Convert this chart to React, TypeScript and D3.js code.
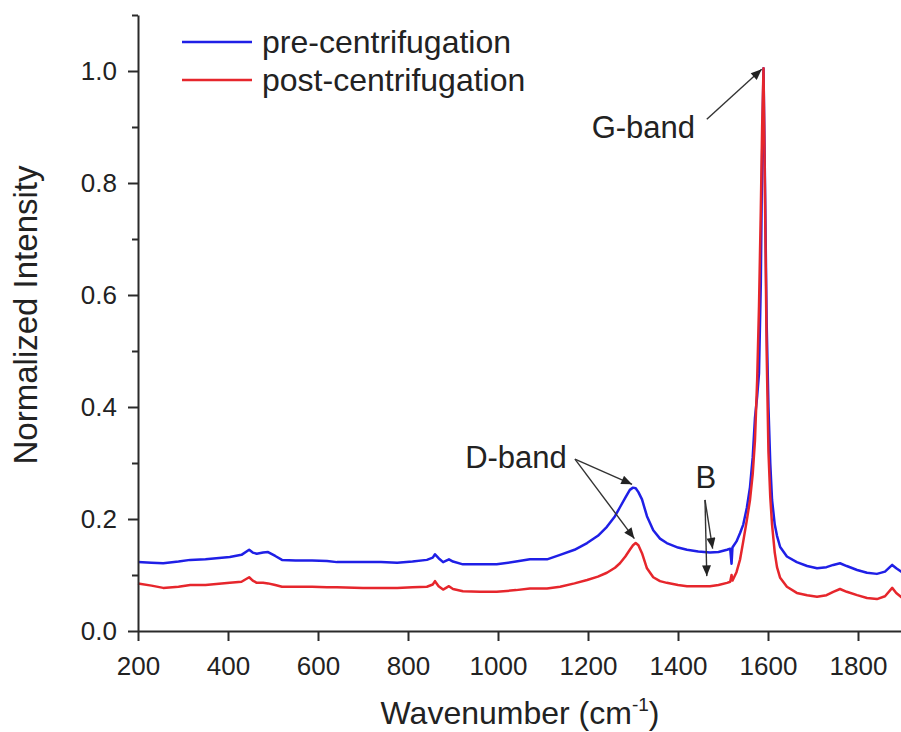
import React, { useRef, useEffect } from 'react'
import { select, scaleLinear, line, axisBottom, axisLeft, range } from 'd3'

// Raman spectra
const wavenumbers = [200, 230, 256, 290, 316, 350, 404, 430, 447, 455, 464, 478, 489, 505, 520, 550, 587, 620, 642, 700, 740, 776, 810, 842, 855, 860, 868, 878, 891, 900, 922, 960, 997, 1040, 1071, 1090, 1109, 1138, 1170, 1198, 1222, 1242, 1260, 1271, 1283, 1293, 1300, 1306, 1312, 1320, 1331, 1345, 1360, 1375, 1400, 1420, 1445, 1471, 1490, 1509, 1516, 1519, 1521, 1530, 1538, 1545, 1553, 1560, 1566, 1571, 1576, 1580, 1584, 1587, 1590, 1593, 1597, 1601, 1605, 1609, 1615, 1620, 1627, 1642, 1664, 1687, 1709, 1730, 1745, 1760, 1775, 1798, 1820, 1842, 1860, 1876, 1885, 1900]

const preValues = [0.123, 0.122, 0.121, 0.124, 0.127, 0.128, 0.132, 0.136, 0.145, 0.140, 0.138, 0.140, 0.141, 0.134, 0.127, 0.126, 0.126, 0.125, 0.123, 0.123, 0.123, 0.122, 0.124, 0.127, 0.131, 0.137, 0.130, 0.123, 0.128, 0.124, 0.119, 0.119, 0.119, 0.124, 0.128, 0.128, 0.128, 0.136, 0.145, 0.157, 0.170, 0.186, 0.205, 0.221, 0.238, 0.252, 0.256, 0.255, 0.248, 0.235, 0.205, 0.180, 0.165, 0.157, 0.149, 0.145, 0.142, 0.140, 0.141, 0.145, 0.147, 0.120, 0.149, 0.160, 0.175, 0.190, 0.220, 0.257, 0.31, 0.38, 0.42, 0.46, 0.62, 0.85, 1.005, 0.82, 0.55, 0.40, 0.30, 0.234, 0.19, 0.17, 0.15, 0.133, 0.123, 0.116, 0.112, 0.114, 0.118, 0.121, 0.116, 0.109, 0.104, 0.102, 0.106, 0.118, 0.112, 0.104]

const postValues = [0.085, 0.081, 0.077, 0.079, 0.082, 0.082, 0.086, 0.088, 0.096, 0.090, 0.086, 0.086, 0.085, 0.082, 0.079, 0.079, 0.079, 0.078, 0.078, 0.077, 0.077, 0.077, 0.078, 0.079, 0.083, 0.089, 0.080, 0.074, 0.080, 0.075, 0.071, 0.070, 0.070, 0.073, 0.076, 0.076, 0.076, 0.079, 0.085, 0.091, 0.097, 0.104, 0.113, 0.121, 0.133, 0.145, 0.153, 0.157, 0.153, 0.139, 0.112, 0.096, 0.089, 0.086, 0.082, 0.080, 0.080, 0.080, 0.082, 0.086, 0.088, 0.100, 0.090, 0.105, 0.128, 0.160, 0.198, 0.234, 0.28, 0.34, 0.45, 0.58, 0.75, 0.90, 1.005, 0.80, 0.50, 0.32, 0.24, 0.19, 0.14, 0.114, 0.095, 0.079, 0.068, 0.064, 0.061, 0.064, 0.070, 0.075, 0.070, 0.064, 0.059, 0.057, 0.062, 0.077, 0.068, 0.058]

const seriesNames = ['pre-centrifugation', 'post-centrifugation']
const seriesColors = ['#1f1fe6', '#e6262c']

const xTicks = [200, 400, 600, 800, 1000, 1200, 1400, 1600, 1800]
const yTicks = [0, 0.2, 0.4, 0.6, 0.8, 1.0]

// annotation label: [x, y] in data units; arrows: [from, to]
const labels = [
  { text: 'G-band', x: 1438, y: 0.88, anchor: 'end' },
  { text: 'D-band', x: 1153, y: 0.291, anchor: 'end' },
  { text: 'B', x: 1462, y: 0.255, anchor: 'middle' },
]
const arrows = [
  [[1464, 0.914], [1586, 1.003]],
  [[1171, 0.307], [1298, 0.262]],
  [[1171, 0.307], [1303, 0.165]],
  [[1460, 0.234], [1477, 0.147]],
  [[1460, 0.234], [1464, 0.098]],
]

export default function App() {
  const canvas = useRef(null)

  const W = 901
  const H = 732
  const margin = { top: 15, right: -2, bottom: 101, left: 138 }

  useEffect(() => {
    const svg = select(canvas.current)
    svg.selectAll('*').remove()

    const x = scaleLinear().domain([200, 1900]).range([margin.left, W - margin.right])
    const y = scaleLinear().domain([0, 1.1]).range([H - margin.bottom, margin.top])

    const font = "'Liberation Sans', Arial, sans-serif"

    const defs = svg.append('defs')
    defs.append('marker').attr('id', 'ah').attr('markerUnits', 'userSpaceOnUse')
      .attr('viewBox', '0 0 12 10').attr('refX', 12).attr('refY', 5)
      .attr('markerWidth', 13).attr('markerHeight', 9).attr('orient', 'auto')
      .append('path').attr('d', 'M0,0 L12,5 L0,10 Z').attr('fill', '#222')

    // series
    const series = [preValues, postValues]
    series.forEach((vals, i) => {
      const pts = wavenumbers.map((w, j) => [w, vals[j]])
      const ln = line().x(d => x(d[0])).y(d => y(d[1]))
      svg.append('path').datum(pts).attr('d', ln).attr('fill', 'none')
        .attr('stroke', seriesColors[i]).attr('stroke-width', 2.5).attr('stroke-linejoin', 'round')
    })

    // axes
    const xAxis = svg.append('g').attr('transform', `translate(0,${y(0)})`)
      .call(axisBottom(x).tickValues(xTicks).tickFormat(d => String(d)).tickSize(10).tickPadding(8).tickSizeOuter(0))
    svg.append('g').attr('transform', `translate(${x(200)},0)`)
      .call(axisLeft(y).tickValues(yTicks).tickFormat(d => d.toFixed(1)).tickSize(10).tickPadding(11).tickSizeOuter(0))
    svg.append('g').attr('transform', `translate(${x(200)},0)`)
      .call(axisLeft(y).tickValues(range(0.1, 1.15, 0.2)).tickFormat(() => '').tickSize(6).tickSizeOuter(0))
      .select('.domain').remove()

    svg.selectAll('.domain').attr('stroke', '#2a2a2a').attr('stroke-width', 2)
    svg.selectAll('.tick line').attr('stroke', '#2a2a2a').attr('stroke-width', 2)
    svg.selectAll('.tick text').attr('font-family', font).attr('font-size', 26).attr('fill', '#222')
    xAxis.selectAll('.tick text').attr('y', 44).attr('dy', 0)

    svg.append('text').attr('x', 520).attr('y', 724).attr('text-anchor', 'middle')
      .attr('font-family', font).attr('font-size', 32).attr('fill', '#222')
      .call(t => {
        t.append('tspan').text('Wavenumber (cm')
        t.append('tspan').attr('font-size', 19).attr('dy', -13).text('-1')
        t.append('tspan').attr('dy', 13).text(')')
      })
    svg.append('text').attr('transform', `translate(37,315) rotate(-90)`)
      .attr('text-anchor', 'middle').attr('font-family', font).attr('font-size', 33).attr('fill', '#222')
      .text('Normalized Intensity')

    // legend
    seriesNames.forEach((name, i) => {
      const ly = 42 + i * 38
      svg.append('line').attr('x1', 182).attr('x2', 252).attr('y1', ly).attr('y2', ly)
        .attr('stroke', seriesColors[i]).attr('stroke-width', 2.5)
      svg.append('text').attr('x', 262).attr('y', ly + 11).attr('font-family', font).attr('font-size', 32)
        .attr('fill', '#222').text(name)
    })

    // annotations
    labels.forEach(l => {
      svg.append('text').attr('x', x(l.x)).attr('y', y(l.y)).attr('text-anchor', l.anchor)
        .attr('font-family', font).attr('font-size', 31).attr('fill', '#222').text(l.text)
    })
    arrows.forEach(a => {
      svg.append('line').attr('x1', x(a[0][0])).attr('y1', y(a[0][1])).attr('x2', x(a[1][0])).attr('y2', y(a[1][1]))
        .attr('stroke', '#333').attr('stroke-width', 1.4).attr('marker-end', 'url(#ah)')
    })
  })

  return (
    <svg ref={canvas} width={W} height={H} style={{ position: 'absolute', left: 0, top: 0, background: '#fff' }} />
  )
}
